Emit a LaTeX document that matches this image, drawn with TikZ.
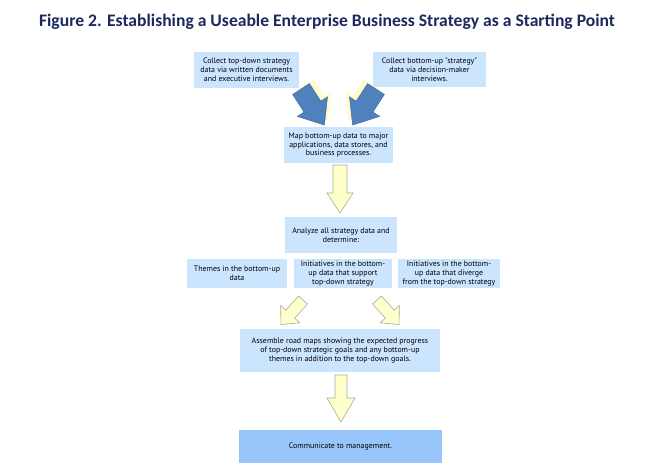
\documentclass[tikz,border=0pt]{standalone}
\usepackage{fontspec}
\usetikzlibrary{calc}
\setmainfont{Carlito}
\newfontfamily\bodyfont{PT Sans}
\definecolor{titleblue}{RGB}{28,40,95}
\definecolor{boxblue}{RGB}{204,229,255}
\definecolor{darkbox}{RGB}{153,198,250}
\definecolor{arrowblue}{RGB}{79,129,189}
\definecolor{arrowedge}{RGB}{60,100,160}
\definecolor{yfill}{RGB}{255,255,204}
\definecolor{yedge}{RGB}{170,170,150}
\definecolor{ysliver}{RGB}{255,250,200}
\tikzset{
  stepbox/.style={fill=boxblue, draw=none, inner sep=0pt, align=center,
    font=\bodyfont\fontsize{7.9}{8.8}\selectfont, text=black},
  bluearr/.style={fill=arrowblue, draw=arrowedge, line width=0.4pt},
  sliver/.style={fill=ysliver, draw=none},
  yarr/.style={fill=yfill, draw=yedge, line width=0.6pt, line join=miter},
}
% \blockarrow{style}{tail}{angle}{length}{shaft half}{head half}{head length}
\newcommand{\blockarrow}[7]{%
  \path[#1, shift={(#2)}, rotate=#3]
    (0,-#5) -- ({#4-#7},-#5) -- ({#4-#7},-#6) -- (#4,0) -- ({#4-#7},#6)
    -- ({#4-#7},#5) -- (0,#5) -- cycle;}
\begin{document}
\begin{tikzpicture}[x=1pt,y=-1pt]
\useasboundingbox (0,0) rectangle (650,466);
\fill[white] (0,0) rectangle (650,466);
% title
\node[font=\bfseries\fontsize{17.6}{19}\selectfont, text=titleblue] (title) at (327,22)
  {Figure 2. Establishing a Useable Enterprise Business Strategy as a Starting Point};
% boxes
\node[stepbox, minimum width=105, minimum height=36] (b1) at (246.5,70)
  {Collect top-down strategy\\data via written documents\\and executive interviews.};
\node[stepbox, minimum width=113, minimum height=35] (b2) at (429.5,69.5)
  {Collect bottom-up "strategy"\\data via decision-maker\\interviews.};
\node[stepbox, minimum width=109, minimum height=36] (b3) at (338.5,145)
  {Map bottom-up data to major\\applications, data stores, and\\business processes.};
\node[stepbox, minimum width=112, minimum height=36] (b4) at (341,235)
  {Analyze all strategy data and\\determine:};
\node[stepbox, minimum width=100, minimum height=29] (b5) at (237,273.5)
  {Themes in the bottom-up\\data};
\node[stepbox, minimum width=98, minimum height=29] (b6) at (343,273.5)
  {Initiatives in the bottom-\\up data that support\\top-down strategy};
\node[stepbox, minimum width=102, minimum height=29] (b7) at (449,273.5)
  {Initiatives in the bottom-\\up data that diverge\\from the top-down strategy};
\node[stepbox, minimum width=200, minimum height=43] (b8) at (340,350.5)
  {Assemble road maps showing the expected progress\\of top-down strategic goals and any bottom-up\\themes in addition to the top-down goals.};
\node[stepbox, fill=darkbox, minimum width=203, minimum height=33] (b9) at (340.5,446.5)
  {Communicate to management.};
% connector anchor coordinates
\coordinate (t1) at (301,89);
\coordinate (t2) at (376,89);
\coordinate (s1) at (305,85);
\coordinate (s2) at (372,85);
\coordinate (t3) at (340,165);
\coordinate (t4) at (303,300);
\coordinate (t5) at (377,300);
\coordinate (t6) at (341,375);
% blue arrows (b1,b2 -> b3) with light 3D sliver
\blockarrow{sliver}{s1}{-57}{42}{10}{18}{22}
\blockarrow{sliver}{s2}{-123}{42}{10}{18}{22}
\blockarrow{bluearr}{t1}{-57}{43}{10}{18}{22}
\blockarrow{bluearr}{t2}{-123}{43}{10}{18}{22}
% yellow arrows
\blockarrow{yarr}{t3}{-90}{48}{7}{13}{20}
\blockarrow{yarr}{t4}{-132}{33}{6}{13}{14}
\blockarrow{yarr}{t5}{-48}{33}{6}{13}{14}
\blockarrow{yarr}{t6}{-90}{47}{6}{14}{24}
\end{tikzpicture}
\end{document}
